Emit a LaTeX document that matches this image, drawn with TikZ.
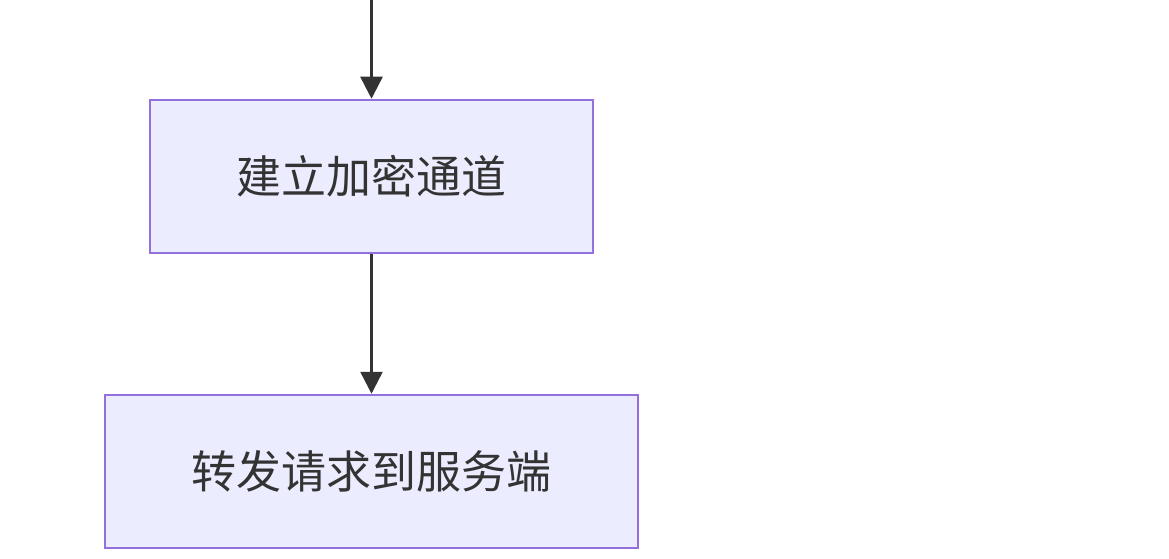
\documentclass[tikz,border=0pt]{standalone}
\usepackage{fontspec}
\setmainfont{Noto Sans CJK SC}
\usepackage{tikz}
\definecolor{boxfill}{RGB}{236, 236, 255}
\definecolor{boxline}{RGB}{147, 112, 219}
\definecolor{ink}{RGB}{51, 51, 51}
\usetikzlibrary{positioning}
\usetikzlibrary{arrows.meta}

\begin{document}
\begin{tikzpicture}[x=1pt, y=1pt]
[every node/.style={inner sep=0pt}]
\useasboundingbox (0pt, 0pt) rectangle (1169pt, -559pt);
\coordinate (0) at (371.5pt, 0pt);
\node (1) [rectangle, minimum width=443pt, minimum height=153pt, fill=boxfill, line width=2.5pt, draw=boxline, text=ink, font=\fontsize{45pt}{52pt}\selectfont] at (371.5pt, -176.5pt)  {建立加密通道};
\node (2) [rectangle, minimum width=533pt, minimum height=153pt, fill=boxfill, line width=2.5pt, draw=boxline, text=ink, font=\fontsize{45pt}{52pt}\selectfont] at (371.5pt, -471.5pt)  {转发请求到服务端};
\draw [line width=2.5pt, color=ink, -{Triangle[length=22pt, width=22pt]}] (0) to  (1);
\draw [line width=2.5pt, color=ink, -{Triangle[length=22pt, width=22pt]}] (1) to  (2);
\end{tikzpicture}
\end{document}
